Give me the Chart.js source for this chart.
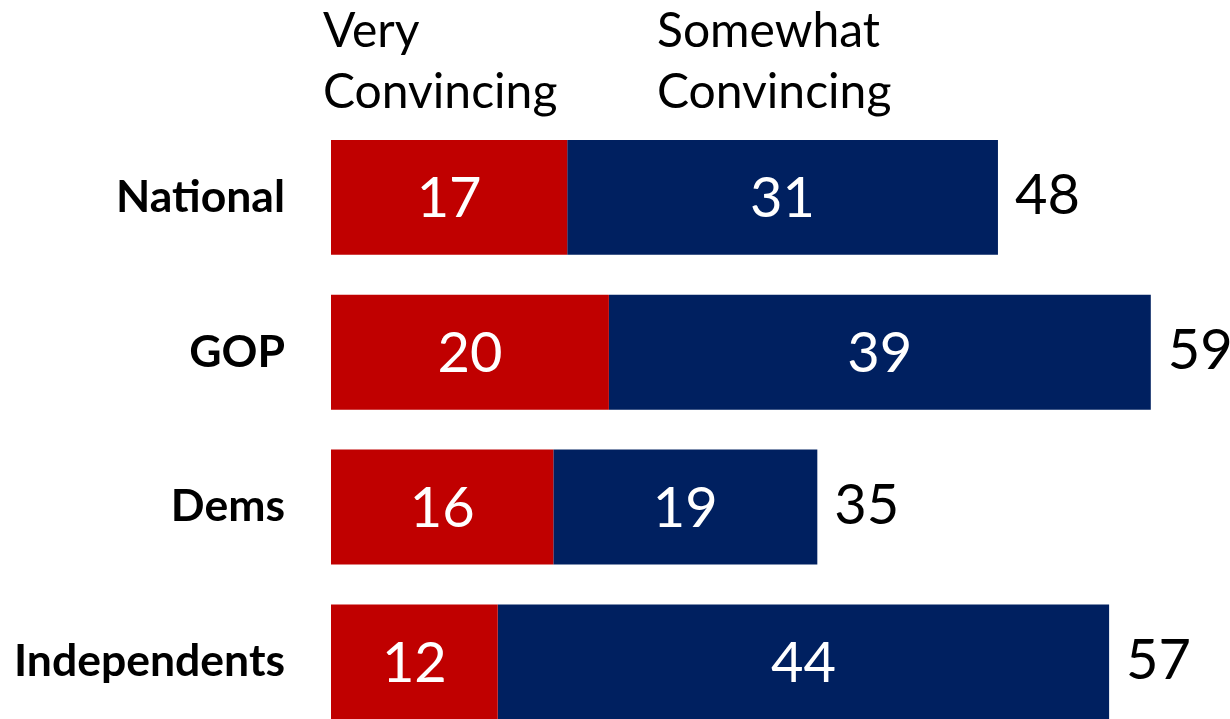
<!DOCTYPE html>
<html>
<head>
<meta charset="utf-8">
<script src="https://cdn.jsdelivr.net/npm/chart.js@4.4.0/dist/chart.umd.min.js"></script>
<style>
  html, body { margin: 0; padding: 0; background: #fff; overflow: hidden; }
  #wrap { width: 1230px; height: 719px; overflow: hidden; }
  canvas { display: block; }
</style>
</head>
<body>
<div id="wrap"><canvas id="myChart" width="1230" height="812"></canvas></div>
<script>
var groups = ["National", "GOP", "Dems", "Independents"];
var veryConvincing = [17, 20, 16, 12];
var somewhatConvincing = [31, 39, 19, 44];
var totals = [48, 59, 35, 57];
var seriesNames = [["Very", "Convincing"], ["Somewhat", "Convincing"]];

var FONT = "Lato, 'Open Sans', sans-serif";

// value labels inside bars, totals at bar ends, and the column headers
var labelPlugin = {
  id: "labels",
  afterDatasetsDraw: function(chart){
    var ctx = chart.ctx;
    ctx.save();
    ctx.textBaseline = "middle";
    ctx.font = "56px " + FONT;
    chart.data.datasets.forEach(function(ds, di){
      chart.getDatasetMeta(di).data.forEach(function(bar, i){
        ctx.fillStyle = "#ffffff";
        ctx.textAlign = "center";
        ctx.fillText(ds.data[i], (bar.x + bar.base) / 2, bar.y + 2);
      });
    });
    var last = chart.getDatasetMeta(chart.data.datasets.length - 1).data;
    ctx.fillStyle = "#000000";
    ctx.textAlign = "left";
    last.forEach(function(bar, i){
      ctx.fillText(totals[i], bar.x + 17, bar.y - 1);
    });

    ctx.font = "48px " + FONT;
    ctx.textBaseline = "alphabetic";
    var headX = [323, 657];
    seriesNames.forEach(function(lines, k){
      lines.forEach(function(t, j){
        ctx.fillText(t, headX[k], 47 + j * 61);
      });
    });
    ctx.restore();
  }
};

var ctx = document.getElementById("myChart");

var chartdata = {
  labels: groups,
  datasets: [{
    label: "Very Convincing",
    backgroundColor: "#C00000",
    data: veryConvincing
  }, {
    label: "Somewhat Convincing",
    backgroundColor: "#002060",
    data: somewhatConvincing
  }]
};

var barGraph = new Chart(ctx, {
  type: "bar",
  data: chartdata,
  plugins: [labelPlugin],
  options: {
    indexAxis: "y",
    responsive: false,
    animation: false,
    layout: { padding: { top: 120, right: 0, bottom: 0, left: 0 } },
    datasets: { bar: { barPercentage: 0.742, categoryPercentage: 1 } },
    plugins: { legend: { display: false }, tooltip: { enabled: false } },
    scales: {
      x: {
        stacked: true,
        display: false,
        min: 0,
        max: 64.7
      },
      y: {
        stacked: true,
        grid: { display: false, drawTicks: false },
        border: { display: false },
        ticks: {
          padding: 46,
          color: "#000000",
          font: { family: FONT, size: 44.5, weight: "bold" }
        },
        afterFit: function(scale){ scale.width = 331; }
      }
    }
  }
});
</script>
</body>
</html>
